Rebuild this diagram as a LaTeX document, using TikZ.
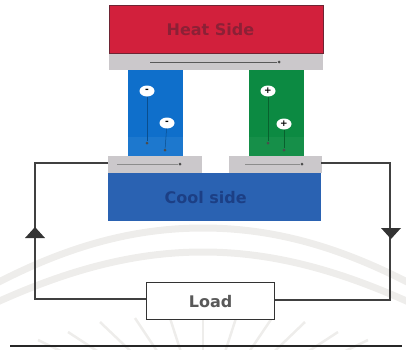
\documentclass[tikz,border=0pt]{standalone}
\usepackage{fontspec}
\setmainfont{DejaVu Sans}
\definecolor{heatred}{HTML}{D2203C}
\definecolor{heatedge}{HTML}{6E2433}
\definecolor{heattext}{HTML}{8C2036}
\definecolor{platec}{HTML}{CBC8CB}
\definecolor{legblue}{HTML}{0F6FCB}
\definecolor{leggreen}{HTML}{0C8A42}
\definecolor{coolblue}{HTML}{2A62B2}
\definecolor{cooltext}{HTML}{1C3F85}
\definecolor{wm}{HTML}{EEEDEB}
\tikzset{
  plate/.style={fill=platec,draw=none,inner sep=0pt,outer sep=0pt},
  inner line/.style={line width=0.7pt,draw=black!65},
  ion/.style={ellipse,fill=white,draw=none,minimum width=15pt,minimum height=11pt,inner sep=0pt,font=\bfseries\fontsize{9}{9}\selectfont},
  dotc/.style={circle,fill=black!70,draw=none,minimum size=3pt,inner sep=0pt},
  wire/.style={line width=1.5pt,draw=black!75,line join=miter},
  tri/.style={fill=black!80,draw=none},
  big label/.style={font=\bfseries\fontsize{16}{16}\selectfont},
}
\usetikzlibrary{shapes.geometric}
\begin{document}
\begin{tikzpicture}[x=1pt,y=-1pt]
\useasboundingbox (0,0) rectangle (406,349);
% watermark
\begin{scope}
\clip (0,0) rectangle (406,349);
\draw[wm,line width=7pt] (-20,292) .. controls (60,248) and (130,228) .. (203,228) .. controls (276,228) and (346,248) .. (426,292);
\draw[wm,line width=7pt] (-20,310) .. controls (60,272) and (130,252) .. (203,252) .. controls (276,252) and (346,272) .. (426,310);
\foreach \tx/\ty in {203/310,168/312,238/312,135/318,272/318,100/322,305/322,68/332,338/332,38/340,368/340}{
  \draw[wm,line width=2.5pt] (\tx,\ty) -- (203,420);
}
\end{scope}
% legs
\fill[legblue] (128,70) rectangle (183,157);
\fill[legblue!94!white] (128,137) rectangle (183,157);
\fill[leggreen] (249,70) rectangle (304,157);
\fill[leggreen!96!white] (249,137) rectangle (304,157);
% plates
\node[plate,anchor=north west,minimum width=214pt,minimum height=17pt] (hotplate) at (109,53) {};
\node[plate,anchor=north west,minimum width=94pt,minimum height=17pt] (coolL) at (108,156) {};
\node[plate,anchor=north west,minimum width=93pt,minimum height=17pt] (coolR) at (229,156) {};
% heat and cool blocks
\node[anchor=north west,fill=heatred,draw=heatedge,line width=0.8pt,minimum width=214pt,minimum height=48pt,inner sep=0pt,text=heattext,big label] (heat) at (109,5) {\kern-12pt Heat Side};
\node[anchor=north west,fill=coolblue,draw=none,minimum width=213pt,minimum height=48pt,inner sep=0pt,text=cooltext,big label] (cool) at (108,173) {\kern-18pt Cool side};
% plate arrows
\coordinate (h1) at (150,62); \node[dotc] (h2) at (279,62) {};
\draw[inner line,line width=1pt] (h1) -- (h2);
\coordinate (l1) at (117,164); \node[dotc] (l2) at (180,164) {};
\draw[inner line,black!45] (l1) -- (l2);
\coordinate (r1) at (245,164); \node[dotc] (r2) at (302,164) {};
\draw[inner line,black!45] (r1) -- (r2);
% ions
\node[ion] (n1) at (147,91) {-};
\node[ion] (n2) at (167,123) {-};
\node[ion] (p1) at (268,91) {+};
\node[ion] (p2) at (284,124) {+};
\node[dotc] (d1) at (147,143) {};
\node[dotc] (d2) at (165,150) {};
\node[dotc] (d3) at (268,143) {};
\node[dotc] (d4) at (284,150) {};
\draw[line width=0.5pt,legblue!70!black] (n1) -- (d1);
\draw[line width=0.5pt,legblue!70!black] (n2) -- (d2);
\draw[line width=0.5pt,leggreen!70!black] (p1) -- (d3);
\draw[line width=0.5pt,leggreen!70!black] (p2) -- (d4);
% load and wires
\node[anchor=north west,fill=white,draw=black!80,line width=1.3pt,minimum width=128pt,minimum height=37pt,inner sep=0pt,text=black!65,big label] (load) at (146,282) {Load};
\coordinate (wl) at (108,163);
\coordinate (wr) at (321,163);
\coordinate (cl1) at (35,163);
\coordinate (cl2) at (35,299);
\coordinate (cr1) at (390,163);
\coordinate (cr2) at (390,300);
\draw[wire] (wl) -- (cl1) -- (cl2) -- (cl2 -| load.west);
\draw[wire] (wr) -- (cr1) -- (cr2) -- (cr2 -| load.east);
\fill[tri] (35,227) -- (45,238) -- (25,238) -- cycle;
\fill[tri] (381,228) -- (401,228) -- (391,239) -- cycle;
% bottom rule
\coordinate (b1) at (10,346); \coordinate (b2) at (402,346);
\draw[line width=1.5pt,black!85] (b1) -- (b2);
\end{tikzpicture}
\end{document}
